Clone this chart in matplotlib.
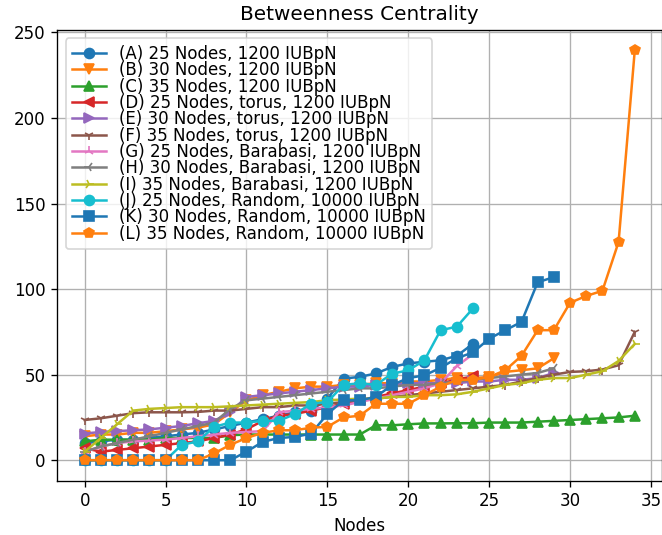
import matplotlib
matplotlib.use("Agg")
import matplotlib.pyplot as plt

# Valeurs (centralité d'intermédiarité triée par nœud)
labels = [
    "(A) 25 Nodes, 1200 IUBpN",
    "(B) 30 Nodes, 1200 IUBpN",
    "(C) 35 Nodes, 1200 IUBpN",
    "(D) 25 Nodes, torus, 1200 IUBpN",
    "(E) 30 Nodes, torus, 1200 IUBpN",
    "(F) 35 Nodes, torus, 1200 IUBpN",
    "(G) 25 Nodes, Barabasi, 1200 IUBpN",
    "(H) 30 Nodes, Barabasi, 1200 IUBpN",
    "(I) 35 Nodes, Barabasi, 1200 IUBpN",
    "(J) 25 Nodes, Random, 10000 IUBpN",
    "(K) 30 Nodes, Random, 10000 IUBpN",
    "(L) 35 Nodes, Random, 10000 IUBpN",
]
markers = ['o', 'v', '^', '<', '>', '1', '2', '3', '4', 'o', 's', 'p']

A = [10, 11, 12, 12, 13, 14, 15, 16, 18, 20, 22, 24, 26, 28, 29, 36, 47.7, 48.7, 50.7, 54.5,
     56.6, 57.5, 58.4, 61, 68]
B = [14, 15, 15, 16, 16, 17, 18, 19, 21, 28, 35, 38, 40, 42, 43, 43, 44, 44, 45, 45,
     46, 46, 47, 48, 48, 48.6, 51.6, 52.6, 53.7, 59.6]
C = [11, 12, 12, 12, 12, 13, 13, 13, 13, 14.6, 15, 15, 15, 15, 15, 15, 15, 15, 20.4, 20.4,
     21, 21.5, 21.5, 21.6, 21.6, 22, 22, 22, 22.5, 23, 23.5, 24, 24.5, 25, 26]
D = [7, 5, 6, 7, 8, 9, 10, 11, 13, 15, 18, 23, 26, 27, 29, 31, 33, 35, 37, 39,
     41, 43, 45, 47, 49]
E = [15.6, 16.5, 17, 17.5, 18, 19, 20, 21.6, 23, 28, 37, 38, 39, 40, 41, 42, 43, 43, 44, 44,
     45, 45, 45, 45, 46, 46, 47, 47, 48, 51]
F = [23.5, 24.5, 26, 27.5, 28, 28, 28, 28.2, 29, 29, 30, 31, 31, 32, 32, 33, 34, 35, 36, 37,
     38, 39, 40, 41, 42, 43, 44, 46, 48, 50, 51.6, 52, 53, 55.5, 75]
G = [5, 8, 10, 11, 11.5, 12, 13, 14, 15, 16, 16.5, 17, 28, 29, 30, 31, 32, 34, 36, 38,
     40, 42, 45, 55, 62]
H = [5, 8, 10, 12, 14, 16, 18, 20, 22, 30, 35, 36, 37, 38, 39, 40, 41, 42, 42, 43,
     44, 44, 45, 46, 47, 48, 49, 50, 51, 53.7]
I = [5, 13, 21, 29, 30, 30.5, 31, 31, 31, 31.5, 32, 32.5, 33, 33.5, 34, 35, 35.5, 36, 36, 37,
     37, 38, 38, 38.5, 40, 42, 44, 45, 47, 48, 48, 50, 52, 58, 68]
J = [0, 0, 0, 0, 0, 0, 9, 11, 19.5, 22, 22, 23, 23, 27, 33, 34, 44, 45, 44, 50.6,
     52.5, 58.4, 76, 78, 88.7]
K = [0, 0, 0, 0, 0, 0, 0, 0, 0, 0, 5, 10.7, 13, 13.6, 15.6, 27, 35, 35, 37, 44,
     48, 49.6, 54, 59.6, 63, 71, 76, 80.8, 104, 107]
L = [0, 0, 0, 0, 0, 0, 0, 0, 4, 9, 13, 16, 17.5, 17.5, 19, 19.5, 25, 26, 33, 33,
     33, 38, 43, 47, 47, 48.6, 52.6, 61, 76, 76, 92, 96, 99, 127.5, 239.5]

series = [A, B, C, D, E, F, G, H, I, J, K, L]

fig = plt.figure(figsize=(662 / 120, 535 / 120), dpi=120)
ax = fig.add_axes([0.0864, 0.1015, 0.914, 0.8426])

for ys, m, lab in zip(series, markers, labels):
    ax.plot(range(len(ys)), ys, marker=m, label=lab)

ax.grid(True)
ax.set_title("Betweenness Centrality")
ax.set_xlabel("Nodes")
ax.legend(loc="upper left", labelspacing=-0.1)

fig.savefig("out.png", dpi=120)
